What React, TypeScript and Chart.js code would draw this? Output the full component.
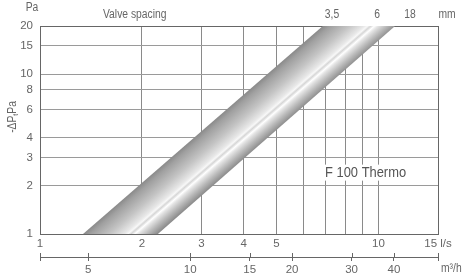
import React, { useEffect, useRef } from 'react';
import { Chart, registerables } from 'chart.js';

Chart.register(...registerables);

// Flow axis (l/s)
const flowTicks = [1, 2, 3, 4, 5, 6, 7, 8, 9, 10, 15];
const flowLabels: Record<number, string> = { 1: '1', 2: '2', 3: '3', 4: '4', 5: '5', 10: '10', 15: '15 l/s' };
// Volume axis (m³/h = l/s × 3.6)
const volumeTicks = [3.6, 5, 10, 15, 20, 30, 40, 54];
const volumeLabels: Record<number, string> = { 5: '5', 10: '10', 15: '15', 20: '20', 30: '30', 40: '40' };
// Pressure axis (Pa)
const pressureTicks = [1, 2, 3, 4, 6, 8, 10, 15, 20];
// Valve spacing header
const valveSpacingLabels = ['3,5', '6', '18'];
// Band (F 100 Thermo): flow at the band edges for pressure 1 Pa and 20 Pa
const bandPressure = [1, 20];
const bandLowFlow = [1.34, 6.85];
const bandHighFlow = [2.23, 11.2];
const seriesName = 'F 100 Thermo';

const FONT = "'Liberation Sans', Arial, sans-serif";
const TEXT = '#666';
const SQUEEZE = 0.86;

const bandPolygon = [
  { x: bandLowFlow[0], y: bandPressure[0] },
  { x: bandLowFlow[1], y: bandPressure[1] },
  { x: bandHighFlow[1], y: bandPressure[1] },
  { x: bandHighFlow[0], y: bandPressure[0] },
  { x: bandLowFlow[0], y: bandPressure[0] },
];

function bandGradient(c: any) {
  const chart = c.chart;
  const xs = chart.scales.x;
  const ys = chart.scales.y;
  if (!xs || !ys || !chart.chartArea) return '#ccc';
  const l0 = { x: xs.getPixelForValue(bandLowFlow[0]), y: ys.getPixelForValue(bandPressure[0]) };
  const l1 = { x: xs.getPixelForValue(bandLowFlow[1]), y: ys.getPixelForValue(bandPressure[1]) };
  const r0 = { x: xs.getPixelForValue(bandHighFlow[0]), y: ys.getPixelForValue(bandPressure[0]) };
  if (![l0.x, l0.y, l1.x, l1.y, r0.x].every(Number.isFinite)) return '#ccc';
  const dx = l1.x - l0.x, dy = l1.y - l0.y;
  const len = Math.hypot(dx, dy) || 1;
  const n = { x: -dy / len, y: dx / len };
  const w = (r0.x - l0.x) * n.x + (r0.y - l0.y) * n.y;
  const g = chart.ctx.createLinearGradient(l0.x, l0.y, l0.x + n.x * w, l0.y + n.y * w);
  g.addColorStop(0, '#8a8a8a');
  g.addColorStop(0.1, '#a0a0a0');
  g.addColorStop(0.35, '#c4c4c4');
  g.addColorStop(0.55, '#e8e8e8');
  g.addColorStop(0.6, '#f8f8f8');
  g.addColorStop(0.64, '#d6d6d6');
  g.addColorStop(0.69, '#ffffff');
  g.addColorStop(0.74, '#e4e4e4');
  g.addColorStop(0.86, '#b8b8b8');
  g.addColorStop(1, '#888888');
  return g;
}

function squeezedText(ctx: any, text: string, x: number, y: number, align: 'left' | 'center' | 'right') {
  ctx.save();
  ctx.translate(x, y);
  ctx.scale(SQUEEZE, 1);
  ctx.textAlign = align;
  ctx.fillText(text, 0, 0);
  ctx.restore();
}

const textPlugin = {
  id: 'texts',
  afterDatasetsDraw(chart: any) {
    const ctx = chart.ctx;
    const area = chart.chartArea;
    ctx.save();
    ctx.font = `15px ${FONT}`;
    ctx.textBaseline = 'middle';
    const tw = ctx.measureText(seriesName).width * SQUEEZE;
    const cx = area.left + (area.right - area.left) * 0.818;
    const cy = area.top + (area.bottom - area.top) * 0.705;
    ctx.fillStyle = '#fff';
    ctx.fillRect(cx - tw / 2 - 1, cy - 8, tw + 2, 16);
    ctx.fillStyle = '#555';
    squeezedText(ctx, seriesName, cx, cy, 'center');
    ctx.restore();
  },
  afterDraw(chart: any) {
    const ctx = chart.ctx;
    const area = chart.chartArea;
    const x2 = chart.scales.x2;
    ctx.save();
    ctx.strokeStyle = '#666';
    ctx.lineWidth = 1;
    for (const v of volumeTicks) {
      const px = Math.round(x2.getPixelForValue(v)) + 0.5;
      ctx.beginPath();
      ctx.moveTo(px, x2.top - 4);
      ctx.lineTo(px, x2.top);
      ctx.stroke();
    }
    ctx.fillStyle = TEXT;
    ctx.font = `12px ${FONT}`;
    ctx.textBaseline = 'middle';
    squeezedText(ctx, 'Pa', area.left - 8, 8, 'center');
    squeezedText(ctx, 'Valve spacing', 103, 15, 'left');
    const vx = [332, 377, 410];
    valveSpacingLabels.forEach((t, i) => squeezedText(ctx, t, vx[i], 15, 'center'));
    squeezedText(ctx, 'mm', 447, 15, 'center');
    squeezedText(ctx, 'm³/h', 441, x2.top + 12, 'left');
    // rotated y title: -ΔPtPa with subscript t
    ctx.translate(13, 117);
    ctx.rotate(-Math.PI / 2);
    ctx.scale(SQUEEZE, 1);
    const parts: [string, number, number][] = [['-ΔP', 12, 0], ['t', 8, 3], ['Pa', 12, 0]];
    let total = 0;
    for (const [t, s] of parts) { ctx.font = `${s}px ${FONT}`; total += ctx.measureText(t).width; }
    let x = -total / 2;
    ctx.textAlign = 'left';
    for (const [t, s, off] of parts) {
      ctx.font = `${s}px ${FONT}`;
      ctx.fillText(t, x, off);
      x += ctx.measureText(t).width;
    }
    ctx.restore();
  },
};

export default function App() {
  const ref = useRef<HTMLCanvasElement>(null);
  useEffect(() => {
    const canvas = ref.current!;
    const chart = new Chart(canvas, {
      type: 'scatter',
      data: {
        datasets: [
          {
            label: seriesName,
            data: bandPolygon,
            showLine: true,
            fill: 'shape',
            borderWidth: 0,
            borderColor: 'rgba(0,0,0,0)',
            pointRadius: 0,
            backgroundColor: bandGradient as any,
            xAxisID: 'x',
            yAxisID: 'y',
          } as any,
        ],
      },
      options: {
        animation: false,
        responsive: false,
        layout: { padding: { top: 26, right: 33, left: 0, bottom: 0 } },
        plugins: { legend: { display: false }, tooltip: { enabled: false } },
        scales: {
          x: {
            type: 'logarithmic',
            position: 'bottom',
            weight: 0,
            min: 1,
            max: 15,
            afterBuildTicks: (s: any) => { s.ticks = flowTicks.map((v) => ({ value: v })); },
            afterFit: (s: any) => { s.height = 23; },
            grid: {
              color: (c: any) => (c.tick && c.tick.value === 15 ? '#666' : '#8a8a8a'),
              lineWidth: 1,
              drawTicks: false,
            },
            border: { color: '#666', width: 1 },
            ticks: {
              autoSkip: false,
              maxRotation: 0,
              padding: 3,
              color: TEXT,
              font: { family: FONT, size: 11.5 },
              callback: (v: any) => flowLabels[Number(v)] ?? '',
            },
          },
          x2: {
            type: 'logarithmic',
            position: 'bottom',
            weight: 1,
            min: 3.6,
            max: 54,
            afterBuildTicks: (s: any) => { s.ticks = volumeTicks.map((v) => ({ value: v })); },
            afterFit: (s: any) => { s.height = 19; },
            grid: { drawOnChartArea: false, drawTicks: true, tickLength: 4, color: '#666', lineWidth: 1 },
            border: { color: '#666', width: 1 },
            ticks: {
              autoSkip: false,
              maxRotation: 0,
              padding: 2,
              color: TEXT,
              font: { family: FONT, size: 11.5 },
              callback: (v: any) => volumeLabels[Number(v)] ?? '',
            },
          },
          y: {
            type: 'logarithmic',
            position: 'left',
            min: 1,
            max: 20,
            afterBuildTicks: (s: any) => { s.ticks = pressureTicks.map((v) => ({ value: v })); },
            afterFit: (s: any) => { s.width = 40; },
            grid: {
              color: (c: any) => (c.tick && c.tick.value === 20 ? '#666' : '#9a9a9a'),
              lineWidth: 1,
              drawTicks: false,
            },
            border: { color: '#666', width: 1 },
            ticks: {
              autoSkip: false,
              padding: 7,
              color: TEXT,
              font: { family: FONT, size: 11.5 },
              callback: (v: any) => String(v),
            },
          },
        } as any,
      },
      plugins: [textPlugin],
    });
    return () => chart.destroy();
  }, []);
  return (
    <div style={{ position: 'fixed', left: 0, top: 0, width: 471, height: 276, background: '#fff' }}>
      <canvas ref={ref} width={471} height={276} style={{ display: 'block', width: 471, height: 276 }} />
    </div>
  );
}
